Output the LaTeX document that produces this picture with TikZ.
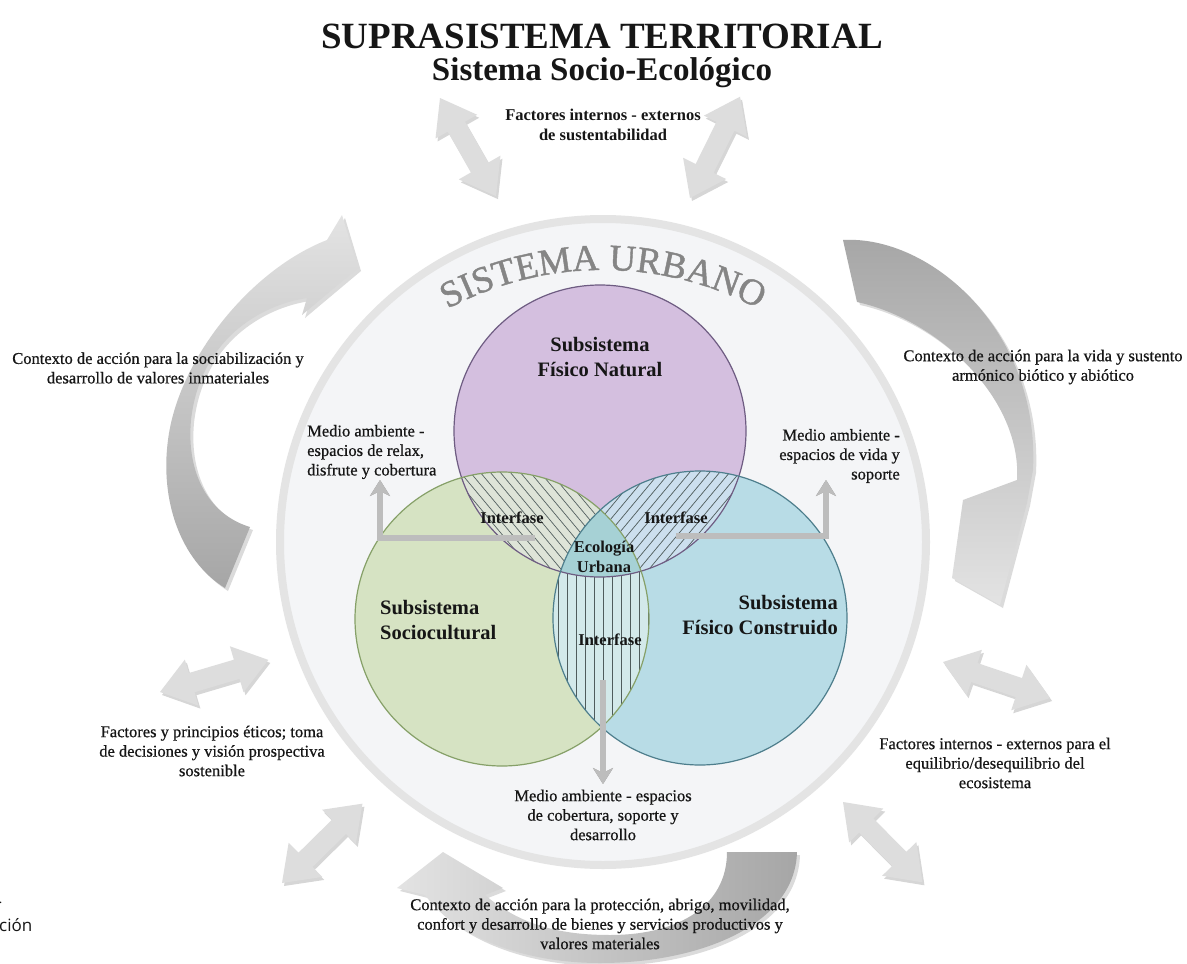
\documentclass[tikz,border=0pt]{standalone}
\usepackage{fontspec}
\setmainfont{Liberation Serif}
\newfontfamily\lblfam{Liberation Serif}[FakeBold=0.6]
\newfontfamily\urbfam{Liberation Serif}[FakeBold=1.2]
\newfontfamily\sansfam{Open Sans}
\usetikzlibrary{arrows.meta,decorations.text}
\definecolor{purF}{HTML}{D4BFDF}
\definecolor{purE}{HTML}{6E5C82}
\definecolor{grnF}{HTML}{D6E3C3}
\definecolor{grnE}{HTML}{86A068}
\definecolor{bluF}{HTML}{B8DCE6}
\definecolor{bluE}{HTML}{4E7E8C}
\definecolor{ifL}{HTML}{DEE4D8}
\definecolor{ifR}{HTML}{CCDFEE}
\definecolor{ifB}{HTML}{D3E9EA}
\definecolor{ecoF}{HTML}{A6D1D5}
\definecolor{hatchC}{HTML}{4F5C5C}
\definecolor{ringF}{HTML}{F4F5F7}
\definecolor{ringE}{HTML}{E4E4E4}
\definecolor{arrDark}{HTML}{A6A6A6}
\definecolor{arrLight}{HTML}{E3E3E3}
\definecolor{dblF}{HTML}{DDDDDD}
\definecolor{elbC}{HTML}{BDBDBD}
\definecolor{elbS}{HTML}{8E8E8E}
\definecolor{txtC}{HTML}{161616}
\definecolor{urbC}{HTML}{858585}

\newcommand\myArcL{(225,-588) .. controls (180,-560) and (160,-500) .. (168,-440)
 .. controls (178,-360) and (250,-270) .. (327,-240)
 -- (342,-215) -- (358,-268) -- (302,-315) -- (307,-298)
 .. controls (260,-305) and (200,-340) .. (191,-420)
 .. controls (186,-475) and (210,-515) .. (250,-527) -- cycle}
\newcommand\myArcR{(843,-240) .. controls (930,-235) and (1040,-330) .. (1033,-470)
 -- (1027,-503) -- (1000,-605) -- (952,-578) -- (963,-500) -- (1017,-480)
 .. controls (1022,-400) and (940,-320) .. (857,-302) -- cycle}
\newcommand\myArcB{(797,-852) .. controls (795,-925) and (700,-963) .. (600,-963)
 .. controls (520,-963) and (455,-935) .. (425,-895) -- (397,-888) -- (443,-852)
 -- (503,-888) -- (485,-895) .. controls (520,-925) and (560,-935) .. (610,-935)
 .. controls (680,-935) and (727,-905) .. (727,-852) -- cycle}

\newcommand\dblarr[3]{%
 \begin{scope}[shift={(#1+2,#2-3)},rotate=#3]
 \fill[black,opacity=.16] (0,0) -- (33,24) -- (33,10) -- (80,10) -- (80,24) -- (113,0)
 -- (80,-24) -- (80,-10) -- (33,-10) -- (33,-24) -- cycle;
 \end{scope}
 \begin{scope}[shift={(#1,#2)},rotate=#3]
 \fill[dblF] (0,0) -- (33,24) -- (33,10) -- (80,10) -- (80,24) -- (113,0)
 -- (80,-24) -- (80,-10) -- (33,-10) -- (33,-24) -- cycle;
 \end{scope}}

\tikzset{
 lbl/.style={text=txtC, align=center, inner sep=0pt, font=\lblfam\fontsize{16.5}{19.5}\selectfont},
 blbl/.style={lbl, font=\fontsize{16.5}{19.5}\selectfont\bfseries},
 subsys/.style={text=txtC, inner sep=0pt, font=\fontsize{20.5}{25}\selectfont\bfseries},
 hatch/.style={draw=hatchC, line width=0.7pt},
 elbow/.style={draw=elbC, line width=6pt, line join=miter, -{Stealth[length=16pt,width=20pt,inset=5pt]}},
 elbowsh/.style={draw=elbS, line width=6pt, line join=miter, -{Stealth[length=16pt,width=20pt,inset=5pt]}},
 ring/.style={fill=ringF, draw=ringE, line width=8pt},
}

\begin{document}
\begin{tikzpicture}[x=1pt,y=1pt]
\useasboundingbox (0,0) rectangle (1187,-964);
\fill[white] (0,0) rectangle (1187,-964);

% curved arrows
\fill[black,opacity=.14,shift={(3,-3)}] \myArcL;
\fill[black,opacity=.14,shift={(3,-3)}] \myArcR;
\fill[black,opacity=.14,shift={(3,-3)}] \myArcB;
\shade[top color=arrLight, bottom color=arrDark] \myArcL;
\shade[top color=arrDark, bottom color=arrLight] \myArcR;
\shade[left color=arrLight, right color=arrDark] \myArcB;

% double arrows
\dblarr{440}{-98}{-60.3}
\dblarr{690}{-198}{63.7}
\dblarr{160}{-692}{16.5}
\dblarr{282}{-883}{44.6}
\dblarr{943}{-662}{-18.6}
\dblarr{843}{-802}{-45.3}

% sistema urbano
\draw[ring] (603,-542) circle (323);
\path[decorate, decoration={text along path, text align=center,
  text={|\urbfam\fontsize{37}{37}\selectfont\color{urbC}|SISTEMA URBANO}}]
  (603,-600) ++(125:330) arc[start angle=125, end angle=55, radius=330];

% venn fills
\fill[purF] (600,-431) circle (146);
\fill[grnF] (502,-619) circle (147);
\fill[bluF] (700,-618) circle (147);
\begin{scope}
 \clip (600,-431) circle (146);
 \clip (502,-619) circle (147);
 \fill[ifL] (300,-300) rectangle (900,-800);
 \foreach \k in {0,...,30} \draw[hatch] (300+\k*10,-400) -- ++(250,-300);
\end{scope}
\begin{scope}
 \clip (600,-431) circle (146);
 \clip (700,-618) circle (147);
 \fill[ifR] (300,-300) rectangle (900,-800);
 \foreach \k in {0,...,30} \draw[hatch] (390+\k*10,-700) -- ++(250,300);
\end{scope}
\begin{scope}
 \clip (502,-619) circle (147);
 \clip (700,-618) circle (147);
 \fill[ifB] (300,-300) rectangle (900,-800);
 \foreach \k in {0,...,16} \draw[hatch] (531+\k*9,-450) -- ++(0,-330);
\end{scope}
\begin{scope}
 \clip (600,-431) circle (146);
 \clip (502,-619) circle (147);
 \clip (700,-618) circle (147);
 \fill[ecoF] (300,-300) rectangle (900,-800);
\end{scope}
\draw[purE, line width=1.2pt] (600,-431) circle (146);
\draw[grnE, line width=1.2pt] (502,-619) circle (147);
\draw[bluE, line width=1.2pt] (700,-618) circle (147);

% elbow arrows
\coordinate (eL0) at (535,-538); \coordinate (eL1) at (380,-538); \coordinate (eL2) at (380,-480);
\coordinate (eR0) at (676,-536); \coordinate (eR1) at (826,-536); \coordinate (eR2) at (826,-480);
\coordinate (eB0) at (603,-680); \coordinate (eB1) at (603,-784);
\draw[elbowsh, shift={(1.5,-1.5)}] (eL0) -- (eL1) -- (eL2);
\draw[elbowsh, shift={(1.5,-1.5)}] (eR0) -- (eR1) -- (eR2);
\draw[elbowsh, shift={(1.5,-1.5)}] (eB0) -- (eB1);
\draw[elbow] (eL0) -- (eL1) -- (eL2);
\draw[elbow] (eR0) -- (eR1) -- (eR2);
\draw[elbow] (eB0) -- (eB1);

% titles
\node[text=txtC, inner sep=0pt, font=\fontsize{37}{40}\selectfont\bfseries] (t1) at (602,-36) {SUPRASISTEMA TERRITORIAL};
\node[text=txtC, inner sep=0pt, font=\fontsize{33}{36}\selectfont\bfseries] (t2) at (602,-73) {Sistema Socio-Ecológico};

% labels
\node[blbl] (lTop) at (603,-125) {Factores internos - externos\\de sustentabilidad};
\node[lbl] (lCL) at (158,-368) {Contexto de acción para la sociabilización y\\desarrollo de valores inmateriales};
\node[lbl] (lCR) at (1043,-367) {Contexto de acción para la vida y sustento\\armónico biótico y abiótico};
\node[lbl, align=left, anchor=west] (lML) at (307,-452) {Medio ambiente -\\espacios de relax,\\disfrute y cobertura};
\node[lbl, align=right, anchor=east] (lMR) at (900,-456) {Medio ambiente -\\espacios de vida y\\soporte};
\node[subsys, align=center] (sN) at (600,-357) {Subsistema\\Físico Natural};
\node[subsys, align=left, anchor=west] (sS) at (380,-620) {Subsistema\\Sociocultural};
\node[subsys, align=right, anchor=east] (sC) at (838,-615) {Subsistema\\Físico Construido};
\node[blbl] (iL) at (512,-518) {Interfase};
\node[blbl] (iR) at (676,-518) {Interfase};
\node[blbl] (iB) at (610,-640) {Interfase};
\node[blbl] (eco) at (604,-557) {Ecología\\Urbana};
\node[lbl] (lFE) at (212,-751) {Factores y principios éticos; toma\\de decisiones y visión prospectiva\\sostenible};
\node[lbl] (lMB) at (603,-815) {Medio ambiente - espacios\\de cobertura, soporte y\\desarrollo};
\node[lbl] (lFI) at (995,-763) {Factores internos - externos para el\\equilibrio/desequilibrio del\\ecosistema};
\node[lbl] (lCB) at (600,-924) {Contexto de acción para la protección, abrigo, movilidad,\\confort y desarrollo de bienes y servicios productivos y\\valores materiales};
\node[anchor=west, inner sep=0pt, text=txtC, font=\sansfam\fontsize{17}{20}\selectfont] (frag) at (-1,-925) {ción};
\node[anchor=west, inner sep=0pt, text=txtC, font=\sansfam\fontsize{12}{14}\selectfont] (frag2) at (-1,-903) {.};
\end{tikzpicture}
\end{document}
